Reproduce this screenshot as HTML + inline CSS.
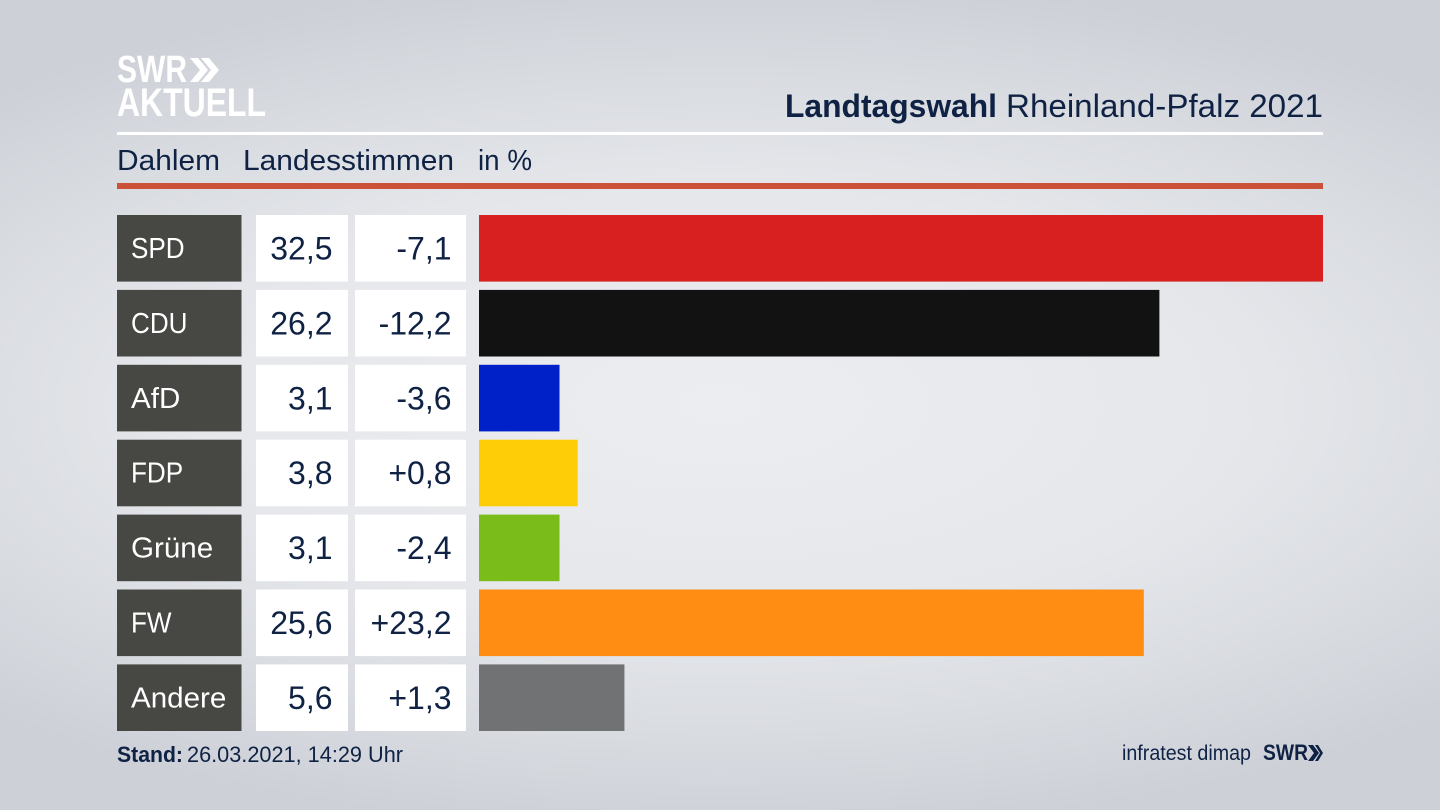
<!DOCTYPE html>
<html lang="de">
<head>
<meta charset="utf-8">
<title>Landtagswahl Rheinland-Pfalz 2021</title>
<style>
html,body{margin:0;padding:0;width:1440px;height:810px;overflow:hidden}
body{background:radial-gradient(ellipse 1050px 430px at 50% 50%,#ebedf1 0%,#e5e7eb 50%,#d8dbe0 78%,#cdd0d7 100%),#cdd0d7}
svg{display:block;position:absolute;left:0;top:0}
text{font-family:"Liberation Sans",sans-serif;fill:#0f2244}
</style>
</head>
<body>
<svg id="chart" width="1440" height="810" viewBox="0 0 1440 810">
  <g>
    <text x="117" y="82" font-size="38" font-weight="700" textLength="70" lengthAdjust="spacingAndGlyphs" style="fill:#fff">SWR</text>
    <path d="M190 58h8l10 12-10 12h-8l10-12zM201 58h8l10 12-10 12h-8l10-12z" fill="#fff"/>
    <text x="117" y="116" font-size="40" font-weight="700" textLength="149" lengthAdjust="spacingAndGlyphs" style="fill:#fff">AKTUELL</text>
  </g>
  <text x="785" y="117" font-size="32" font-weight="700" textLength="212" lengthAdjust="spacingAndGlyphs">Landtagswahl</text>
  <text x="1006" y="117" font-size="32" textLength="317" lengthAdjust="spacingAndGlyphs">Rheinland-Pfalz 2021</text>
  <rect x="117" y="132" width="1206" height="3" fill="#fff"/>
  <text x="117" y="170" font-size="29" textLength="103" lengthAdjust="spacingAndGlyphs">Dahlem</text>
  <text x="243" y="170" font-size="29" textLength="211" lengthAdjust="spacingAndGlyphs">Landesstimmen</text>
  <text x="478" y="170" font-size="29" textLength="54" lengthAdjust="spacingAndGlyphs">in %</text>
  <rect x="117" y="183" width="1206" height="6" fill="#cb5138"/>
  <g id="rows"></g>
  <text x="117" y="762" font-size="22" font-weight="700" textLength="66" lengthAdjust="spacingAndGlyphs">Stand:</text>
  <text x="187" y="762" font-size="22" textLength="216" lengthAdjust="spacingAndGlyphs">26.03.2021, 14:29 Uhr</text>
  <text x="1122" y="760" font-size="21" textLength="129" lengthAdjust="spacingAndGlyphs">infratest dimap</text>
  <text x="1263" y="760" font-size="22" font-weight="700" textLength="45" lengthAdjust="spacingAndGlyphs">SWR</text>
  <path d="M1308 745h5l6 8-6 8h-5l6-8zM1315 745h3l5 8-5 8h-3l5-8z" fill="#0f2244"/>
</svg>
<script>
const parties = ["SPD", "CDU", "AfD", "FDP", "Grüne", "FW", "Andere"];
const shares = [32.5, 26.2, 3.1, 3.8, 3.1, 25.6, 5.6];
const changes = [-7.1, -12.2, -3.6, 0.8, -2.4, 23.2, 1.3];
const barColors = ["#d7201f", "#121212", "#0020c8", "#ffcd07", "#7abd1a", "#ff8d14", "#717274"];

const SVG_NS = "http://www.w3.org/2000/svg";
const rowsGroup = document.getElementById("rows");
const barLeft = 479;
const barMax = 844;
const maxShare = Math.max.apply(null, shares);
const xScale = function (value) { return value / maxShare * barMax; };
const rowTop = function (index) { return 215 + index * 74.9; };
const rowHeight = 66.6;
const formatShare = function (value) { return value.toFixed(1).replace(".", ","); };
const formatChange = function (value) { return (value > 0 ? "+" : "") + value.toFixed(1).replace(".", ","); };

function makeRect(x, y, width, height, fill) {
  const rect = document.createElementNS(SVG_NS, "rect");
  rect.setAttribute("x", x);
  rect.setAttribute("y", y);
  rect.setAttribute("width", width);
  rect.setAttribute("height", height);
  rect.setAttribute("fill", fill);
  rowsGroup.appendChild(rect);
  return rect;
}

function makeText(x, y, content, size, anchor, fill) {
  const label = document.createElementNS(SVG_NS, "text");
  label.setAttribute("x", x);
  label.setAttribute("y", y);
  label.setAttribute("font-size", size);
  label.setAttribute("text-anchor", anchor);
  label.style.fill = fill;
  label.textContent = content;
  rowsGroup.appendChild(label);
  return label;
}

parties.forEach(function (party, i) {
  const top = rowTop(i);
  const slug = party.toLowerCase().replace("ü", "ue");
  const labelScale = party === party.toUpperCase() ? 0.9 : 1.02;

  const labelCell = makeRect(117, top, 124.5, rowHeight, "#474744");
  
  

  const shareCell = makeRect(256, top, 92, rowHeight, "#ffffff");
  
  

  const changeCell = makeRect(355, top, 111, rowHeight, "#ffffff");
  
  

  const bar = makeRect(barLeft, top, xScale(shares[i]), rowHeight, barColors[i]);
  
  

  const partyLabel = makeText(0, 0, party, 29, "start", "#ffffff");
  partyLabel.setAttribute("transform", "translate(131 " + (top + 43) + ") scale(" + labelScale + " 1)");
  
  

  const shareLabel = makeText(332.5, top + 44.5, formatShare(shares[i]), 32, "end", "#0f2244");
  
  

  const changeLabel = makeText(451.5, top + 44.5, formatChange(changes[i]), 32, "end", "#0f2244");
  
  
});
</script>
</body>
</html>
